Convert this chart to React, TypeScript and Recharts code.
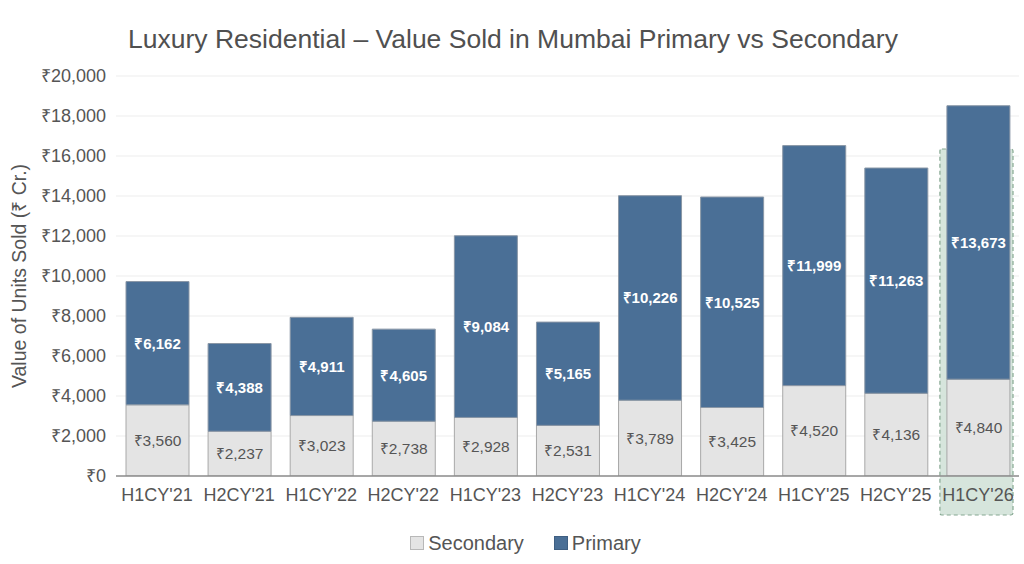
import React from 'react';
import {
  BarChart,
  Bar,
  XAxis,
  YAxis,
  CartesianGrid,
  Legend,
  LabelList,
  ReferenceArea,
} from 'recharts';

const categories = [
  "H1CY'21", "H2CY'21", "H1CY'22", "H2CY'22", "H1CY'23", "H2CY'23",
  "H1CY'24", "H2CY'24", "H1CY'25", "H2CY'25", "H1CY'26",
];
const secondary = [3560, 2237, 3023, 2738, 2928, 2531, 3789, 3425, 4520, 4136, 4840];
const primary = [6162, 4388, 4911, 4605, 9084, 5165, 10226, 10525, 11999, 11263, 13673];
const yTicks = [0, 2000, 4000, 6000, 8000, 10000, 12000, 14000, 16000, 18000, 20000];
const highlightCategory = "H1CY'26";
const highlightTop = 16350;
const highlightBottom = -1950;

const data = categories.map((c, i) => ({ name: c, Secondary: secondary[i], Primary: primary[i] }));

const FONT = '"Liberation Sans", Arial, sans-serif';
const PRIMARY_COLOR = '#4a6f96';
const SECONDARY_COLOR = '#e4e4e4';
const TEXT = '#555555';

const fmt = (v: any) => `₹${Number(v).toLocaleString('en-US')}`;

const YLabel = (props: any) => {
  const vb = props.viewBox || {};
  const cy = vb.y + vb.height / 2;
  const cx = 19;
  return (
    <text
      x={cx}
      y={cy}
      transform={`rotate(-90 ${cx} ${cy})`}
      textAnchor="middle"
      dominantBaseline="central"
      fill={TEXT}
      fontSize={19.5}
      fontFamily={FONT}
    >
      Value of Units Sold (₹ Cr.)
    </text>
  );
};

const HighlightShape = (props: any) => {
  const { x, y, width, height } = props;
  return (
    <rect
      x={x + 3}
      y={y}
      width={width - 9}
      height={height}
      rx={2}
      fill="#cfe1d6"
      fillOpacity={0.85}
      stroke="#86a892"
      strokeDasharray="4 3"
      strokeWidth={1.2}
    />
  );
};

const LegendContent = () => (
  <div
    style={{
      display: 'flex',
      justifyContent: 'center',
      alignItems: 'center',
      height: 48,
      paddingTop: 6,
      paddingLeft: 32,
      boxSizing: 'border-box',
      fontFamily: FONT,
      fontSize: 20,
      color: TEXT,
    }}
  >
    <span style={{ display: 'flex', alignItems: 'center', marginRight: 30 }}>
      <span style={{ width: 12, height: 12, background: SECONDARY_COLOR, border: '1px solid #b8b8b8', marginRight: 4, display: 'inline-block' }} />
      Secondary
    </span>
    <span style={{ display: 'flex', alignItems: 'center' }}>
      <span style={{ width: 12, height: 12, background: PRIMARY_COLOR, border: '1px solid #3f5f82', marginRight: 4, display: 'inline-block' }} />
      Primary
    </span>
  </div>
);

export default function App() {
  return (
    <div style={{ position: 'absolute', left: 0, top: 0, width: 1024, height: 564, background: '#fff' }}>
      <div
        style={{
          position: 'absolute',
          left: 0,
          top: 22,
          width: 1026,
          textAlign: 'center',
          fontFamily: FONT,
          fontSize: 26.5,
          color: '#505050',
          lineHeight: '34px',
          zIndex: 2,
        }}
      >
        Luxury Residential – Value Sold in Mumbai Primary vs Secondary
      </div>
      <BarChart
        width={1024}
        height={564}
        data={data}
        margin={{ top: 76, right: 5, bottom: 0, left: 0 }}
      >
        <CartesianGrid vertical={false} stroke="#ededed" strokeWidth={1} />
        <ReferenceArea
          x1={highlightCategory}
          x2={highlightCategory}
          y1={highlightBottom}
          y2={highlightTop}
          ifOverflow="visible"
          shape={<HighlightShape />}
        />
        <XAxis
          dataKey="name"
          height={40}
          tickLine={false}
          tickSize={0}
          tickMargin={12}
          axisLine={{ stroke: '#8c8c8c', strokeWidth: 1.5 }}
          tick={{ fill: TEXT, fontSize: 18, fontFamily: FONT }}
          interval={0}
        />
        <YAxis
          width={116}
          domain={[0, 20000]}
          ticks={yTicks}
          tickFormatter={fmt}
          axisLine={false}
          tickLine={false}
          tickSize={0}
          tickMargin={10}
          tick={{ fill: TEXT, fontSize: 18, fontFamily: FONT }}
          label={<YLabel />}
          allowDataOverflow
        />
        <Legend verticalAlign="bottom" content={<LegendContent />} />
        <Bar
          dataKey="Secondary"
          stackId="a"
          fill={SECONDARY_COLOR}
          stroke="#a8a8a8"
          strokeWidth={1}
          barSize={63}
          isAnimationActive={false}
        >
          <LabelList
            dataKey="Secondary"
            position="center"
            formatter={fmt}
            fill="#555"
            fontSize={15.5}
            fontFamily={FONT}
          />
        </Bar>
        <Bar
          dataKey="Primary"
          stackId="a"
          fill={PRIMARY_COLOR}
          stroke="#8a97a6"
          strokeWidth={1}
          barSize={63}
          isAnimationActive={false}
        >
          <LabelList
            dataKey="Primary"
            position="center"
            formatter={fmt}
            fill="#ffffff"
            fontSize={15}
            fontWeight="bold"
            fontFamily={FONT}
          />
        </Bar>
      </BarChart>
    </div>
  );
}
